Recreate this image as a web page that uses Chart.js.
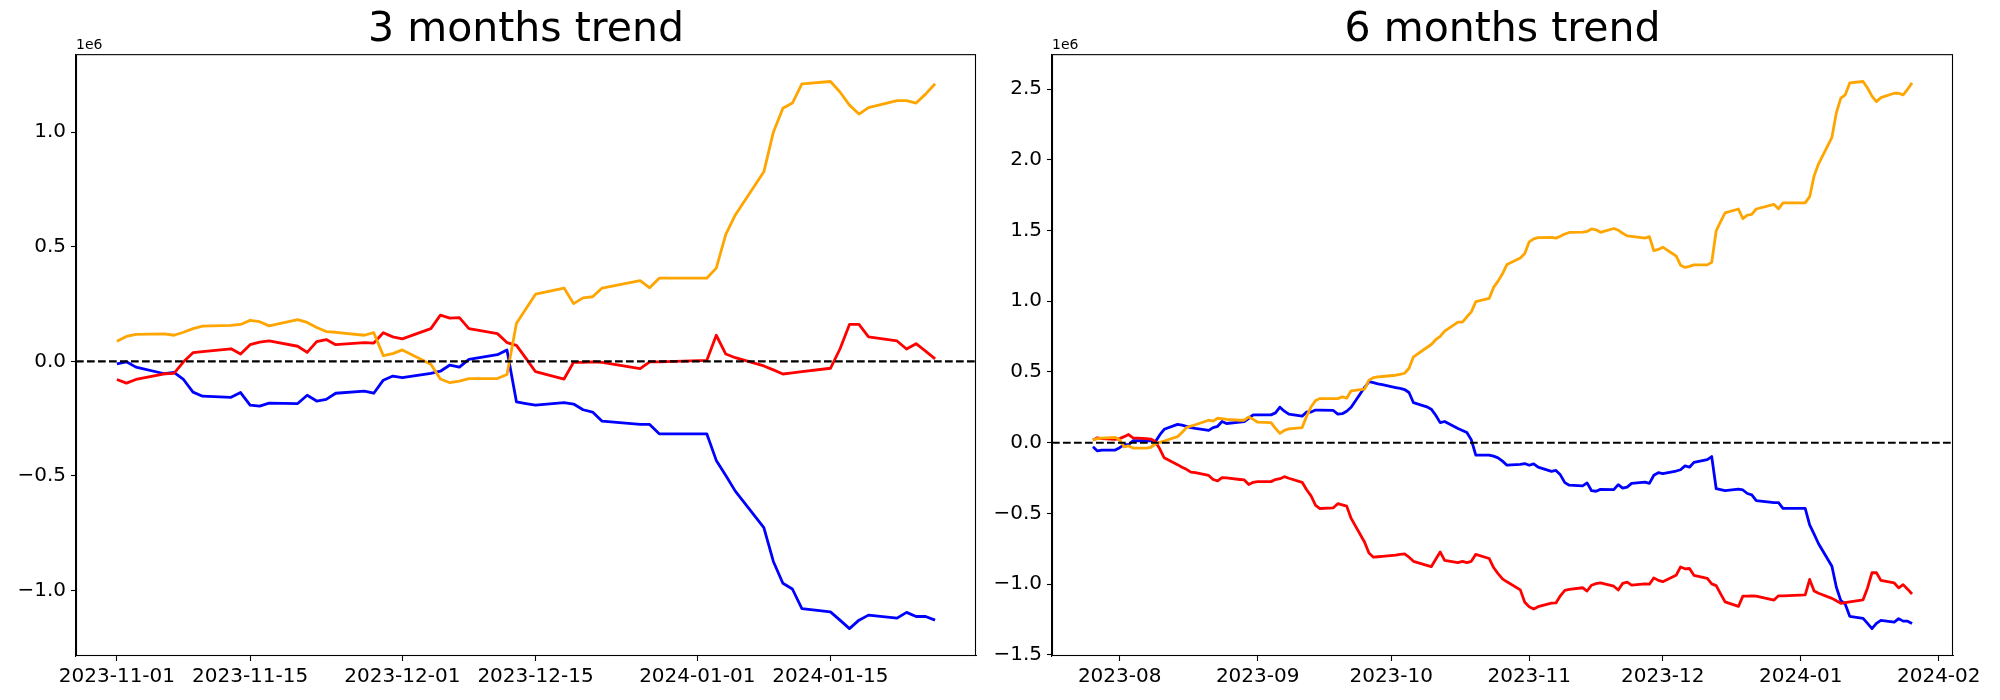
<!DOCTYPE html>
<html>
<head>
<meta charset="utf-8">
<script src="https://cdn.jsdelivr.net/npm/chart.js@4.4.1/dist/chart.umd.min.js"></script>
<style>
  html, body { margin: 0; padding: 0; background: #fff; }
  #wrap { position: relative; width: 2000px; height: 700px; }
  canvas { position: absolute; top: 0; }
</style>
</head>
<body>
<div id="wrap">
  <canvas id="c3" width="990" height="700" style="left:0px"></canvas>
  <canvas id="c6" width="1010" height="700" style="left:990px"></canvas>
</div>
<script>
// values are in units of 1e6 (matches the "1e6" offset text on the axes)

// ---- 3 months trend ----
const dates3m = [
  '2023-11-01','2023-11-02','2023-11-03','2023-11-06','2023-11-07','2023-11-08','2023-11-09','2023-11-10',
  '2023-11-13','2023-11-14','2023-11-15','2023-11-16','2023-11-17','2023-11-20','2023-11-21','2023-11-22',
  '2023-11-23','2023-11-24','2023-11-27','2023-11-28','2023-11-29','2023-11-30',
  '2023-12-01','2023-12-04','2023-12-05','2023-12-06','2023-12-07','2023-12-08','2023-12-11','2023-12-12',
  '2023-12-13','2023-12-14','2023-12-15','2023-12-18','2023-12-19','2023-12-20','2023-12-21','2023-12-22',
  '2023-12-26','2023-12-27','2023-12-28',
  '2024-01-02','2024-01-03','2024-01-04','2024-01-05','2024-01-08','2024-01-09','2024-01-10','2024-01-11',
  '2024-01-12','2024-01-15','2024-01-16','2024-01-17','2024-01-18','2024-01-19','2024-01-22','2024-01-23',
  '2024-01-24','2024-01-25','2024-01-26'
];
const blue3m = [
  -0.011, -0.002, -0.025, -0.054, -0.048, -0.079, -0.134, -0.152, -0.157, -0.136, -0.191, -0.195, -0.182, -0.184,
  -0.148, -0.173, -0.166, -0.139, -0.130, -0.139, -0.082, -0.064,
  -0.071, -0.052, -0.043, -0.016, -0.025, 0.009, 0.029, 0.050, -0.177, -0.184, -0.191, -0.180, -0.186, -0.211,
  -0.221, -0.261, -0.275, -0.275, -0.316,
  -0.316, -0.432, -0.498, -0.566, -0.725, -0.873, -0.968, -0.993, -1.079, -1.093, -1.129, -1.166, -1.129, -1.107,
  -1.120, -1.095, -1.113, -1.113, -1.129
];
const red3m = [
  -0.079, -0.095, -0.079, -0.054, -0.052, -0.002, 0.038, 0.043, 0.055, 0.032, 0.073, 0.084, 0.089, 0.066,
  0.039, 0.086, 0.095, 0.073, 0.082, 0.080, 0.125, 0.107,
  0.098, 0.143, 0.202, 0.189, 0.191, 0.143, 0.121, 0.082, 0.070, 0.013, -0.045, -0.077, -0.004, -0.004,
  -0.002, -0.004, -0.032, -0.002, -0.002,
  0.004, 0.114, 0.032, 0.016, -0.020, -0.037, -0.055, -0.050, -0.045, -0.030, 0.054, 0.161, 0.161, 0.107,
  0.089, 0.054, 0.077, 0.045, 0.011
];
const orange3m = [
  0.088, 0.109, 0.118, 0.120, 0.114, 0.127, 0.143, 0.154, 0.157, 0.161, 0.179, 0.173, 0.155, 0.182,
  0.170, 0.148, 0.130, 0.127, 0.114, 0.125, 0.025, 0.034,
  0.050, -0.013, -0.077, -0.093, -0.086, -0.075, -0.075, -0.057, 0.166, 0.230, 0.293, 0.320, 0.252, 0.277,
  0.282, 0.320, 0.352, 0.321, 0.363,
  0.363, 0.407, 0.554, 0.639, 0.827, 1.000, 1.104, 1.127, 1.211, 1.221, 1.175, 1.118, 1.079, 1.107,
  1.138, 1.138, 1.127, 1.166, 1.211
];
const xTicks3m = ['2023-11-01', '2023-11-15', '2023-12-01', '2023-12-15', '2024-01-01', '2024-01-15'];
const yTicks3m = [-1.0, -0.5, 0.0, 0.5, 1.0];

// ---- 6 months trend ----
const datesJulOct = [
  '2023-07-26','2023-07-27','2023-07-28','2023-07-31',
  '2023-08-01','2023-08-02','2023-08-03','2023-08-04','2023-08-07','2023-08-08','2023-08-09','2023-08-10',
  '2023-08-11','2023-08-14','2023-08-15','2023-08-16','2023-08-17','2023-08-18','2023-08-21','2023-08-22',
  '2023-08-23','2023-08-24','2023-08-25','2023-08-28','2023-08-29','2023-08-30','2023-08-31',
  '2023-09-01','2023-09-04','2023-09-05','2023-09-06','2023-09-07','2023-09-08','2023-09-11','2023-09-12',
  '2023-09-13','2023-09-14','2023-09-15','2023-09-18','2023-09-19','2023-09-20','2023-09-21','2023-09-22',
  '2023-09-25','2023-09-26','2023-09-27','2023-09-28','2023-09-29',
  '2023-10-02','2023-10-03','2023-10-04','2023-10-05','2023-10-06','2023-10-09','2023-10-10','2023-10-11',
  '2023-10-12','2023-10-13','2023-10-16','2023-10-17','2023-10-18','2023-10-19','2023-10-20','2023-10-23',
  '2023-10-24','2023-10-25','2023-10-26','2023-10-27','2023-10-30','2023-10-31'
];
const dates6m = datesJulOct.concat(dates3m);
const blue6m = [
  -0.029, -0.058, -0.052, -0.052,
  -0.035, -0.014, -0.014, 0.014, 0.014, 0.014, 0.006, 0.055, 0.095, 0.130, 0.124, 0.116, 0.107, 0.101,
  0.087, 0.107, 0.116, 0.150, 0.136, 0.145, 0.150, 0.173, 0.197,
  0.197, 0.197, 0.211, 0.251, 0.223, 0.202, 0.188, 0.217, 0.217, 0.231, 0.231, 0.228, 0.202, 0.205,
  0.223, 0.251, 0.390, 0.431, 0.425, 0.416, 0.410,
  0.390, 0.384, 0.376, 0.355, 0.283, 0.254, 0.237, 0.194, 0.142, 0.150, 0.101, 0.087, 0.072, 0.020,
  -0.087, -0.087, -0.095, -0.107, -0.130, -0.159, -0.153, -0.147,
  -0.159, -0.150, -0.173, -0.202, -0.196, -0.227, -0.282, -0.300, -0.305, -0.284, -0.339, -0.343, -0.330, -0.332,
  -0.296, -0.321, -0.314, -0.287, -0.278, -0.287, -0.230, -0.212,
  -0.219, -0.200, -0.191, -0.164, -0.173, -0.139, -0.119, -0.098, -0.325, -0.332, -0.339, -0.328, -0.334, -0.359,
  -0.369, -0.409, -0.423, -0.423, -0.464,
  -0.464, -0.580, -0.646, -0.714, -0.873, -1.021, -1.116, -1.141, -1.227, -1.241, -1.277, -1.314, -1.277, -1.255,
  -1.268, -1.243, -1.261, -1.261, -1.277
];
const red6m = [
  0.020, 0.035, 0.029, 0.023,
  0.029, 0.043, 0.058, 0.035, 0.029, 0.026, 0.009, -0.043, -0.107, -0.155, -0.173, -0.188, -0.208, -0.211,
  -0.231, -0.260, -0.269, -0.246, -0.249, -0.260, -0.263, -0.295, -0.280,
  -0.275, -0.275, -0.260, -0.254, -0.240, -0.251, -0.280, -0.332, -0.376, -0.442, -0.465, -0.460, -0.431, -0.439,
  -0.448, -0.535, -0.702, -0.780, -0.809, -0.806, -0.803,
  -0.795, -0.789, -0.786, -0.809, -0.838, -0.867, -0.876, -0.824, -0.772, -0.832, -0.847, -0.838, -0.847, -0.838,
  -0.789, -0.818, -0.882, -0.925, -0.962, -0.983, -1.040, -1.127,
  -1.159, -1.175, -1.159, -1.134, -1.132, -1.082, -1.043, -1.037, -1.025, -1.048, -1.007, -0.996, -0.991, -1.014,
  -1.041, -0.994, -0.985, -1.007, -0.998, -1.000, -0.955, -0.973,
  -0.982, -0.937, -0.878, -0.891, -0.889, -0.937, -0.959, -0.998, -1.010, -1.068, -1.125, -1.157, -1.084, -1.084,
  -1.082, -1.084, -1.112, -1.082, -1.082,
  -1.076, -0.966, -1.048, -1.064, -1.100, -1.117, -1.135, -1.130, -1.125, -1.110, -1.026, -0.919, -0.919, -0.973,
  -0.991, -1.026, -1.003, -1.035, -1.069
];
const orange6m = [
  0.020, 0.029, 0.032, 0.038,
  0.020, -0.029, -0.023, -0.038, -0.038, -0.032, -0.009, 0.003, 0.012, 0.043, 0.072, 0.107, 0.118, 0.127,
  0.159, 0.153, 0.173, 0.171, 0.165, 0.159, 0.159, 0.182, 0.165,
  0.145, 0.142, 0.101, 0.066, 0.087, 0.098, 0.107, 0.188, 0.254, 0.298, 0.312, 0.312, 0.312, 0.324,
  0.315, 0.367, 0.379, 0.442, 0.460, 0.465, 0.468,
  0.477, 0.483, 0.491, 0.526, 0.607, 0.673, 0.694, 0.728, 0.751, 0.789, 0.853, 0.853, 0.890, 0.925,
  0.997, 1.020, 1.098, 1.142, 1.194, 1.260, 1.306, 1.338,
  1.420, 1.441, 1.450, 1.452, 1.446, 1.459, 1.475, 1.486, 1.489, 1.493, 1.511, 1.505, 1.487, 1.514,
  1.502, 1.480, 1.462, 1.459, 1.446, 1.457, 1.357, 1.366,
  1.382, 1.320, 1.255, 1.239, 1.246, 1.257, 1.257, 1.275, 1.498, 1.562, 1.625, 1.652, 1.584, 1.609,
  1.614, 1.652, 1.684, 1.653, 1.695,
  1.695, 1.739, 1.886, 1.971, 2.159, 2.332, 2.436, 2.459, 2.543, 2.553, 2.507, 2.450, 2.411, 2.439,
  2.470, 2.470, 2.459, 2.498, 2.543
];
const xTicks6m = ['2023-08', '2023-09', '2023-10', '2023-11', '2023-12', '2024-01', '2024-02'];
const yTicks6m = [-1.5, -1.0, -0.5, 0.0, 0.5, 1.0, 1.5, 2.0, 2.5];

const FONT = "'DejaVu Sans', sans-serif";
const DAY = 86400000;
// dates become day numbers on a linear x scale (no date adapter available offline)
const toDay = s => Date.parse((s.length === 7 ? s + '-01' : s) + 'T00:00:00Z') / DAY;
const fmtY = v => v.toFixed(1).replace('-', '\u2212');

// frame, dashed zero line and the 1e6 offset label, like matplotlib's axes
const axesDecor = {
    id: 'axesDecor',
    afterDatasetsDraw(chart) {
        const { ctx, chartArea: a, scales } = chart;
        const y0 = scales.y.getPixelForValue(0);
        ctx.save();
        ctx.strokeStyle = '#000';
        ctx.lineWidth = 2.1;
        ctx.setLineDash([7.7, 3.3]);
        ctx.beginPath();
        ctx.moveTo(a.left, y0);
        ctx.lineTo(a.right, y0);
        ctx.stroke();
        ctx.restore();
    },
    afterDraw(chart) {
        const { ctx, chartArea: a } = chart;
        ctx.save();
        ctx.strokeStyle = '#000';
        ctx.lineWidth = 1.1;
        ctx.strokeRect(a.left + 0.5, a.top + 0.5, a.right - a.left - 1, a.bottom - a.top - 1);
        ctx.fillStyle = '#000';
        ctx.font = '14px ' + FONT;
        ctx.textAlign = 'left';
        ctx.textBaseline = 'alphabetic';
        ctx.fillText('1e6', a.left, a.top - 5);
        ctx.restore();
    }
};

function trendChart(id, title, dates, blue, red, orange, xTicks, yTicks, axisWidth, padRight) {
    const xs = dates.map(toDay);
    const all = blue.concat(red, orange);
    const yLo = Math.min(...all), yHi = Math.max(...all);
    const ym = (yHi - yLo) * 0.05;
    const xm = (xs[xs.length - 1] - xs[0]) * 0.05;
    const line = (vals, color, order) => ({
        data: vals.map((v, i) => ({ x: xs[i], y: v })),
        borderColor: color, borderWidth: 2.8, pointRadius: 0, tension: 0, fill: false, order,
        borderJoinStyle: 'round', borderCapStyle: 'butt'
    });
    const tickFont = { family: FONT, size: 20 };
    const grid = { drawOnChartArea: false, drawTicks: true, tickLength: 5, tickColor: '#000', tickWidth: 1.1 };

    return new Chart(document.getElementById(id), {
        type: 'line',
        data: { datasets: [line(blue, '#0000ff', 2), line(red, '#ff0000', 1), line(orange, '#ffa500', 0)] },
        options: {
            responsive: false,
            animation: false,
            devicePixelRatio: 1,
            layout: { padding: { left: 0, right: padRight, top: 0, bottom: 0 } },
            plugins: {
                legend: { display: false },
                tooltip: { enabled: false },
                title: {
                    display: true, text: title, fullSize: false, color: '#000',
                    font: { family: FONT, size: 41, weight: 'normal', lineHeight: 1.15 },
                    padding: { top: 7, bottom: 0 }
                }
            },
            scales: {
                x: {
                    type: 'linear',
                    min: xs[0] - xm,
                    max: xs[xs.length - 1] + xm,
                    afterBuildTicks: s => { s.ticks = xTicks.map(t => ({ value: toDay(t) })); },
                    afterFit: s => { s.height = 44; },
                    grid,
                    border: { display: true, color: '#000', width: 1.1 },
                    ticks: {
                        color: '#000', font: tickFont, padding: 4, autoSkip: false, maxRotation: 0,
                        callback: (v, i) => xTicks[i]
                    }
                },
                y: {
                    min: yLo - ym,
                    max: yHi + ym,
                    afterBuildTicks: s => { s.ticks = yTicks.map(v => ({ value: v })); },
                    afterFit: s => { s.width = axisWidth; },
                    grid,
                    border: { display: true, color: '#000', width: 1.1 },
                    ticks: { color: '#000', font: tickFont, padding: 5, callback: v => fmtY(v) }
                }
            }
        },
        plugins: [axesDecor]
    });
}

trendChart('c3', '3 months trend', dates3m, blue3m, red3m, orange3m, xTicks3m, yTicks3m, 76, 14);
trendChart('c6', '6 months trend', dates6m, blue6m, red6m, orange6m, xTicks6m, yTicks6m, 62, 47);
</script>
</body>
</html>
